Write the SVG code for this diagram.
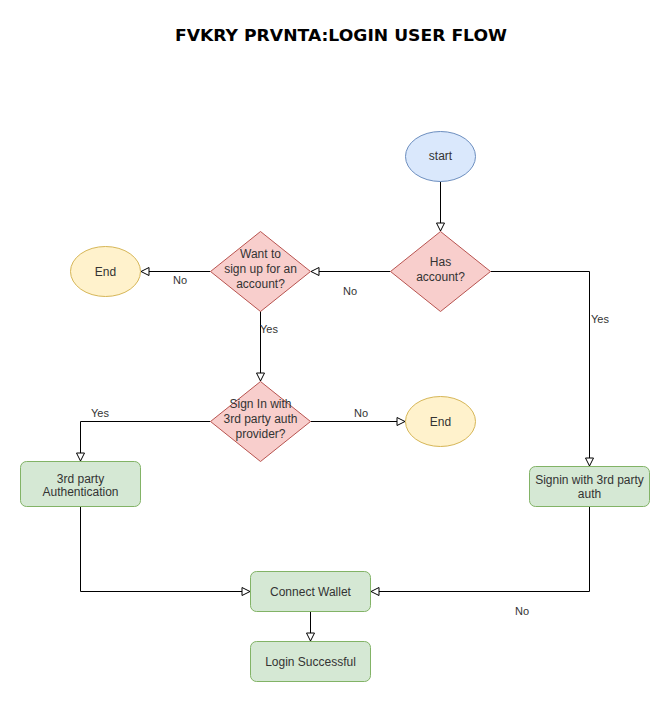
<svg xmlns="http://www.w3.org/2000/svg" width="670" height="702" viewBox="0 0 670 702">
<style>
.t{font-family:"Liberation Sans",Arial,sans-serif;font-size:12px;fill:#333333;text-anchor:middle}
.l{font-family:"Liberation Sans",Arial,sans-serif;font-size:11px;fill:#333333;text-anchor:middle}
.c{fill:none;stroke:#000000;stroke-width:1}
.blue{fill:#dae8fc;stroke:#6c8ebf}
.yellow{fill:#fff2cc;stroke:#d6b656}
.red{fill:#f8cecc;stroke:#b85450}
.green{fill:#d5e8d4;stroke:#82b366}
</style>
<defs>
<marker id="arr" markerWidth="10" markerHeight="10" viewBox="0 0 10 10" refX="9" refY="5" orient="auto" markerUnits="userSpaceOnUse">
<path d="M1,1 L9,5 L1,9 Z" fill="#ffffff" stroke="#000000" stroke-width="1"/>
</marker>
</defs>
<rect width="670" height="702" fill="#ffffff"/>
<text x="341" y="41" style="font-family:'DejaVu Sans',Verdana,sans-serif;font-size:15px;font-weight:bold;fill:#000000;text-anchor:middle" textLength="332" lengthAdjust="spacingAndGlyphs">FVKRY PRVNTA:LOGIN USER FLOW</text>
<g id="connectors">
<path class="c" d="M440.5,181.5 L440.5,231" marker-end="url(#arr)"/>
<path class="c" d="M390.5,271.5 L311,271.5" marker-end="url(#arr)"/>
<text class="l" x="350" y="295">No</text>
<path class="c" d="M210.5,271.5 L141,271.5" marker-end="url(#arr)"/>
<text class="l" x="180" y="284">No</text>
<path class="c" d="M260.5,311 L260.5,381" marker-end="url(#arr)"/>
<text class="l" x="269" y="333">Yes</text>
<path class="c" d="M310.5,421.5 L405,421.5" marker-end="url(#arr)"/>
<text class="l" x="361" y="417">No</text>
<path class="c" d="M210.5,421.5 L80.5,421.5 L80.5,461" marker-end="url(#arr)"/>
<text class="l" x="100" y="417">Yes</text>
<path class="c" d="M490.5,271.5 L589.5,271.5 L589.5,466" marker-end="url(#arr)"/>
<text class="l" x="600" y="323">Yes</text>
<path class="c" d="M80.5,506.5 L80.5,591.5 L250,591.5" marker-end="url(#arr)"/>
<path class="c" d="M589.5,506.5 L589.5,591.5 L371,591.5" marker-end="url(#arr)"/>
<text class="l" x="522" y="615">No</text>
<path class="c" d="M310.5,611.5 L310.5,641" marker-end="url(#arr)"/>
</g>
<g id="start">
<ellipse class="blue" cx="440.5" cy="156.5" rx="35" ry="25"/>
<text class="t" x="440.5" y="160">start</text>
</g>
<g id="has-account">
<path class="red" d="M440.5,231.5 L490.5,271.5 L440.5,311.5 L390.5,271.5 Z"/>
<text class="t" x="440.5" y="266">Has</text>
<text class="t" x="440.5" y="281">account?</text>
</g>
<g id="want-signup">
<path class="red" d="M260.5,231.5 L310.5,271.5 L260.5,311.5 L210.5,271.5 Z"/>
<text class="t" x="260.5" y="258">Want to</text>
<text class="t" x="260.5" y="273">sign up for an</text>
<text class="t" x="260.5" y="288">account?</text>
</g>
<g id="end-left">
<ellipse class="yellow" cx="105.5" cy="271.5" rx="35" ry="25"/>
<text class="t" x="105.5" y="275.5">End</text>
</g>
<g id="signin-3rd">
<path class="red" d="M260.5,381.5 L310.5,421.5 L260.5,461.5 L210.5,421.5 Z"/>
<text class="t" x="260.5" y="408">Sign In with</text>
<text class="t" x="260.5" y="423">3rd party auth</text>
<text class="t" x="260.5" y="438">provider?</text>
</g>
<g id="end-right">
<ellipse class="yellow" cx="440.5" cy="421.5" rx="35" ry="25"/>
<text class="t" x="440.5" y="425.5">End</text>
</g>
<g id="third-party-auth">
<rect class="green" x="20.5" y="461.5" width="120" height="45" rx="6"/>
<text class="t" x="80.5" y="482.5">3rd party</text>
<text class="t" x="80.5" y="496">Authentication</text>
</g>
<g id="signin-with-3rd">
<rect class="green" x="529.5" y="466.5" width="120" height="40" rx="6"/>
<text class="t" x="589.5" y="484">Signin with 3rd party</text>
<text class="t" x="589.5" y="498">auth</text>
</g>
<g id="connect-wallet">
<rect class="green" x="250.5" y="571.5" width="120" height="40" rx="6"/>
<text class="t" x="310.5" y="595.5">Connect Wallet</text>
</g>
<g id="login-successful">
<rect class="green" x="250.5" y="641.5" width="120" height="40" rx="6"/>
<text class="t" x="310.5" y="665.5">Login Successful</text>
</g>
</svg>
